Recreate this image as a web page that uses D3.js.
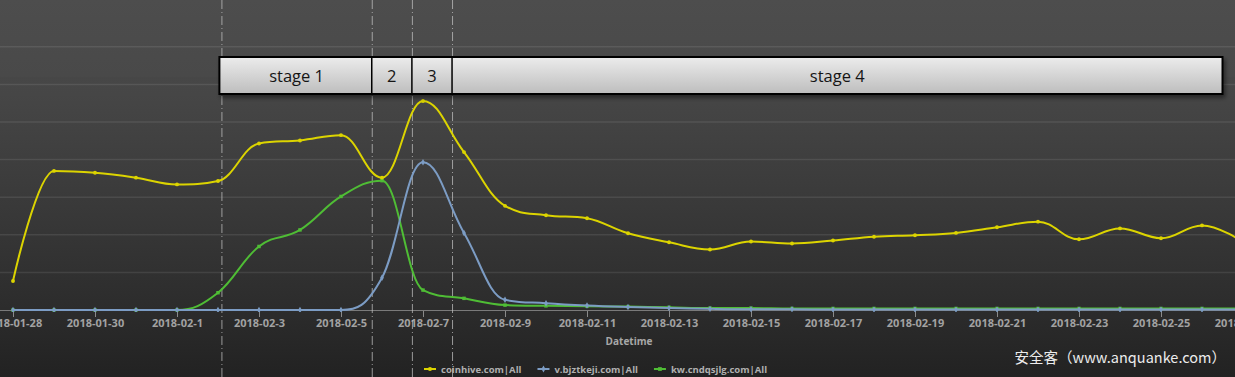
<!DOCTYPE html>
<html>
<head>
<meta charset="utf-8">
<script src="https://cdn.jsdelivr.net/npm/d3@7"></script>
<style>
  html, body { margin: 0; padding: 0; background: #222; }
  svg { display: block; }
</style>
</head>
<body>
<svg id="chart" width="1235" height="377"></svg>
<script>
// daily categories
var dates = ["2018-01-28","2018-01-29","2018-01-30","2018-01-31","2018-02-01","2018-02-02","2018-02-03",
  "2018-02-04","2018-02-05","2018-02-06","2018-02-07","2018-02-08","2018-02-09","2018-02-10","2018-02-11",
  "2018-02-12","2018-02-13","2018-02-14","2018-02-15","2018-02-16","2018-02-17","2018-02-18","2018-02-19",
  "2018-02-20","2018-02-21","2018-02-22","2018-02-23","2018-02-24","2018-02-25","2018-02-26","2018-02-27"];

// series values (grid units)
var coinhive = [0.77,3.70,3.65,3.52,3.34,3.43,4.43,4.51,4.65,3.52,5.56,4.20,2.77,2.52,2.44,2.04,1.80,1.61,
  1.82,1.77,1.85,1.95,1.99,2.05,2.20,2.35,1.88,2.17,1.91,2.25,1.81];
var bjztkeji = [0,0,0,0,0,0,0,0,0,0.86,3.93,2.05,0.27,0.18,0.12,0.08,0.05,0.03,0.02,0.02,0.01,0.01,
  0.01,0.01,0.01,0.01,0.01,0.01,0.01,0.01,0.01];
var cndqsjlg = [0,0,0,0,0,0.46,1.69,2.13,3.02,3.44,0.53,0.31,0.13,0.11,0.10,0.09,0.07,0.05,0.05,0.04,
  0.04,0.04,0.04,0.04,0.04,0.04,0.04,0.04,0.04,0.04,0.04];

var seriesNames = ["coinhive.com|All", "v.bjztkeji.com|All", "kw.cndqsjlg.com|All"];
var seriesColors = ["#dcd400", "#7c9cc4", "#4fbd35"];
var seriesSymbols = [d3.symbolCircle, d3.symbolDiamond, d3.symbolSquare];

// stage boundaries and labels
var stageBounds = ["2018-02-02T02:00","2018-02-05T18:00","2018-02-06T17:30","2018-02-07T17:00","2018-02-26T12:00"];
var stageLabels = ["stage 1", "2", "3", "stage 4"];

var gridValues = [1,2,3,4,5,6,7];

var width = 1235, height = 377;
var parse = d3.isoParse;
var series = [coinhive, bjztkeji, cndqsjlg].map(function(vals, i) {
  return {
    name: seriesNames[i], color: seriesColors[i], symbol: seriesSymbols[i],
    values: vals.map(function(v, j) { return { date: parse(dates[j]), value: v }; })
  };
});

var x = d3.scaleTime()
  .domain([parse(dates[0]), parse(dates[dates.length - 1])])
  .range([13, 13 + 41 * (dates.length - 1)]);

var y = d3.scaleLinear()
  .domain([0, 7])
  .range([310, 310 - 7 * 37.6]);

// highcharts-style spline: control points with smoothing 1.5, flattened at extremes
function splineControls(pts, i) {
  var cur = pts[i], last = pts[i - 1], next = pts[i + 1];
  if (!last || !next) return [cur, cur];
  var sm = 1.5, den = sm + 1;
  var lx = (sm * cur[0] + last[0]) / den, ly = (sm * cur[1] + last[1]) / den;
  var rx = (sm * cur[0] + next[0]) / den, ry = (sm * cur[1] + next[1]) / den;
  if (rx !== lx) {
    var corr = ((ry - ly) * (rx - cur[0])) / (rx - lx) + cur[1] - ry;
    ly += corr; ry += corr;
  }
  if (ly > last[1] && ly > cur[1]) { ly = Math.max(last[1], cur[1]); ry = 2 * cur[1] - ly; }
  else if (ly < last[1] && ly < cur[1]) { ly = Math.min(last[1], cur[1]); ry = 2 * cur[1] - ly; }
  if (ry > next[1] && ry > cur[1]) { ry = Math.max(next[1], cur[1]); ly = 2 * cur[1] - ry; }
  else if (ry < next[1] && ry < cur[1]) { ry = Math.min(next[1], cur[1]); ly = 2 * cur[1] - ry; }
  return [[lx, ly], [rx, ry]];
}

function spline(values) {
  var pts = values.map(function(d) { return [x(d.date), y(d.value)]; });
  var p = d3.path();
  pts.forEach(function(pt, i) {
    if (i === 0) { p.moveTo(pt[0], pt[1]); return; }
    var c1 = splineControls(pts, i - 1)[1], c2 = splineControls(pts, i)[0];
    p.bezierCurveTo(c1[0], c1[1], c2[0], c2[1], pt[0], pt[1]);
  });
  return p.toString();
}

var svg = d3.select("#chart");
var defs = svg.append("defs");

var bg = defs.append("linearGradient").attr("id", "bg").attr("x1", 0).attr("y1", 0).attr("x2", 0).attr("y2", 1);
bg.append("stop").attr("offset", "0").attr("stop-color", "#4b4b4b");
bg.append("stop").attr("offset", "0.25").attr("stop-color", "#464646");
bg.append("stop").attr("offset", "0.55").attr("stop-color", "#393939");
bg.append("stop").attr("offset", "0.82").attr("stop-color", "#2c2c2c");
bg.append("stop").attr("offset", "1").attr("stop-color", "#222222");

var boxGrad = defs.append("linearGradient").attr("id", "boxgrad").attr("x1", 0).attr("y1", 0).attr("x2", 0).attr("y2", 1);
boxGrad.append("stop").attr("offset", "0").attr("stop-color", "#ececec");
boxGrad.append("stop").attr("offset", "1").attr("stop-color", "#bdbdbd");

var shadow = defs.append("filter").attr("id", "shadow").attr("x", "-5%").attr("y", "-20%").attr("width", "110%").attr("height", "160%");
shadow.append("feDropShadow").attr("dx", 2).attr("dy", 3).attr("stdDeviation", 2)
  .attr("flood-color", "#000").attr("flood-opacity", 0.45);

defs.append("clipPath").attr("id", "clip").append("rect").attr("width", width).attr("height", 312);

svg.append("rect").attr("width", width).attr("height", height).attr("fill", "url(#bg)");
svg.append("rect").attr("width", width).attr("height", 77).attr("fill", "#fff").attr("opacity", 0.015);

// grid
svg.append("g").selectAll("line").data(gridValues).enter().append("line")
  .attr("x1", 0).attr("x2", width)
  .attr("y1", function(d) { return y(d); }).attr("y2", function(d) { return y(d); })
  .attr("stroke", "#fff").attr("stroke-opacity", 0.09).attr("stroke-width", 1.5);

// x axis
var tickDates = dates.filter(function(d, i) { return i % 2 === 0; }).map(parse);
var xAxis = svg.append("g").attr("transform", "translate(0,310)")
  .call(d3.axisBottom(x).tickValues(tickDates).tickFormat(d3.timeFormat("%Y-%m-%-d"))
    .tickSize(7).tickSizeOuter(0).tickPadding(2));
xAxis.select(".domain").remove();
xAxis.selectAll(".tick line").attr("stroke", "#8a8a8a");
xAxis.selectAll(".tick text").attr("fill", "#a2a2a2")
  .style("font-family", "'Open Sans', sans-serif").style("font-weight", "bold").style("font-size", "11px");
svg.append("line").attr("x1", 0).attr("x2", width).attr("y1", 310.5).attr("y2", 310.5)
  .attr("stroke", "#7a7a7a").attr("stroke-width", 1);

svg.append("text").attr("x", 629).attr("y", 345).attr("text-anchor", "middle")
  .attr("fill", "#a8a8a8").style("font-family", "'Open Sans', sans-serif")
  .style("font-weight", "bold").style("font-size", "10px").text("Datetime");

// stage divider lines
svg.append("g").selectAll("line").data(stageBounds.slice(0, 4)).enter().append("line")
  .attr("x1", function(d) { return x(parse(d)) + 0.5; }).attr("x2", function(d) { return x(parse(d)) + 0.5; })
  .attr("y1", 0).attr("y2", height)
  .attr("stroke", "#c0c0c0").attr("stroke-opacity", 0.75).attr("stroke-width", 1)
  .attr("stroke-dasharray", "9,3,1,3");

// series
var plot = svg.append("g").attr("clip-path", "url(#clip)");
series.slice().reverse().forEach(function(s) {
  plot.append("path").attr("d", spline(s.values))
    .attr("fill", "none").attr("stroke", s.color).attr("stroke-width", 2);
  plot.selectAll(null).data(s.values).enter().append("path")
    .attr("transform", function(d) { return "translate(" + x(d.date) + "," + y(d.value) + ")"; })
    .attr("d", d3.symbol().type(s.symbol).size(12))
    .attr("fill", s.color);
});

// stage boxes
var stages = stageLabels.map(function(l, i) {
  return { label: l, x0: x(parse(stageBounds[i])), x1: x(parse(stageBounds[i + 1])) };
});
var boxG = svg.append("g");
boxG.append("rect")
  .attr("x", stages[0].x0 - 2).attr("y", 57)
  .attr("width", stages[stages.length - 1].x1 - stages[0].x0 + 2).attr("height", 37)
  .attr("fill", "url(#boxgrad)").attr("stroke", "#000").attr("stroke-width", 2)
  .attr("filter", "url(#shadow)");
boxG.selectAll("line").data(stages.slice(1)).enter().append("line")
  .attr("x1", function(d) { return d.x0; }).attr("x2", function(d) { return d.x0; })
  .attr("y1", 57).attr("y2", 94).attr("stroke", "#000").attr("stroke-width", 1.5);
boxG.selectAll("text").data(stages).enter().append("text")
  .attr("x", function(d) { return (d.x0 + d.x1) / 2; }).attr("y", 82)
  .attr("text-anchor", "middle").attr("fill", "#151515")
  .style("font-family", "'Open Sans', sans-serif").style("font-size", "16.5px")
  .text(function(d) { return d.label; });

// legend
var legend = svg.append("g");
var lx = 424;
series.forEach(function(s) {
  var g = legend.append("g").attr("transform", "translate(" + lx + ",369)");
  g.append("line").attr("x1", 0).attr("x2", 12).attr("stroke", s.color).attr("stroke-width", 2);
  g.append("path").attr("transform", "translate(6,0)").attr("d", d3.symbol().type(s.symbol).size(14)).attr("fill", s.color);
  var t = g.append("text").attr("x", 17).attr("y", 3.5).attr("fill", "#b0b0b0")
    .style("font-family", "'Open Sans', sans-serif").style("font-weight", "bold").style("font-size", "9.5px")
    .text(s.name);
  lx += 17 + t.node().getComputedTextLength() + 16;
});

// watermark
svg.append("text").attr("x", 1226).attr("y", 363).attr("text-anchor", "end")
  .attr("fill", "#ececec").style("font-family", "'Noto Sans CJK SC', sans-serif").style("font-size", "14.5px")
  .text("安全客（www.anquanke.com）");
</script>
</body>
</html>
